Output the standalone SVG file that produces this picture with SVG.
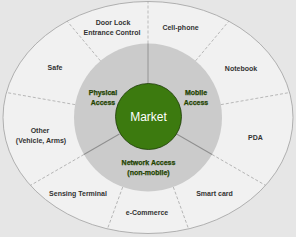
<svg xmlns="http://www.w3.org/2000/svg" width="296" height="237" viewBox="0 0 296 237">
<style>
.out{font-family:"Liberation Sans",Arial,sans-serif;font-size:7px;font-weight:bold;fill:#333333;text-anchor:middle}
.acc{font-family:"Liberation Sans",Arial,sans-serif;font-size:7px;font-weight:bold;fill:#2f5a00;stroke:#0f1f00;stroke-width:0.25;text-anchor:middle}
.dash{stroke:#a4a4a4;stroke-width:0.7;stroke-dasharray:3,2;fill:none}
.solid{stroke:#8e8e8e;stroke-width:0.9;fill:none}
</style>
<defs>
<clipPath id="ell"><ellipse cx="148" cy="117.5" rx="145" ry="116"/></clipPath>
</defs>
<rect width="296" height="237" fill="#e6e6e6"/>
<g id="outer-ring">
<ellipse cx="148" cy="117.5" rx="145" ry="116" fill="#f1f1f1" stroke="#a0a0a0" stroke-width="0.8"/>
</g>
<g id="inner-ring">
<circle cx="148" cy="117.5" r="74" fill="#cbcbcb"/>
</g>
<g id="connectors">
<g clip-path="url(#ell)">
<line class="dash" x1="148" y1="43.5" x2="148" y2="-120" transform="rotate(0 148 117.5)"/>
<line class="dash" x1="148" y1="43.5" x2="148" y2="-120" transform="rotate(40 148 117.5)"/>
<line class="dash" x1="148" y1="43.5" x2="148" y2="-120" transform="rotate(80 148 117.5)"/>
<line class="dash" x1="148" y1="43.5" x2="148" y2="-120" transform="rotate(120 148 117.5)"/>
<line class="dash" x1="148" y1="43.5" x2="148" y2="-120" transform="rotate(160 148 117.5)"/>
<line class="dash" x1="148" y1="43.5" x2="148" y2="-120" transform="rotate(200 148 117.5)"/>
<line class="dash" x1="148" y1="43.5" x2="148" y2="-120" transform="rotate(240 148 117.5)"/>
<line class="dash" x1="148" y1="43.5" x2="148" y2="-120" transform="rotate(280 148 117.5)"/>
<line class="dash" x1="148" y1="43.5" x2="148" y2="-120" transform="rotate(320 148 117.5)"/>
</g>
<line class="solid" x1="148" y1="84.5" x2="148" y2="43.5" transform="rotate(0 148 117.5)"/>
<line class="solid" x1="148" y1="84.5" x2="148" y2="43.5" transform="rotate(120 148 117.5)"/>
<line class="solid" x1="148" y1="84.5" x2="148" y2="43.5" transform="rotate(240 148 117.5)"/>
</g>
<g id="market">
<circle cx="148.5" cy="116.5" r="33" fill="#3c7a0f" stroke="#1c3a05" stroke-width="0.8"/>
<text x="148.5" y="121" style="font-family:'Liberation Sans',Arial,sans-serif;font-size:12px;fill:#ffffff;text-anchor:middle">Market</text>
</g>
<g id="physical-access"><text class="acc" x="103" y="95">Physical</text><text class="acc" x="103" y="104.5">Access</text></g>
<g id="mobile-access"><text class="acc" x="196" y="95">Mobile</text><text class="acc" x="196" y="104.5">Access</text></g>
<g id="network-access"><text class="acc" x="148.5" y="165">Network Access</text><text class="acc" x="148.5" y="174.5">(non-mobile)</text></g>
<g id="door-lock"><text class="out" x="113" y="25">Door Lock</text><text class="out" x="112" y="35">Entrance Control</text></g>
<g id="cell-phone"><text class="out" x="180.5" y="29.5">Cell-phone</text></g>
<g id="notebook"><text class="out" x="241" y="71">Notebook</text></g>
<g id="pda"><text class="out" x="255.5" y="140">PDA</text></g>
<g id="smart-card"><text class="out" x="214.5" y="196">Smart card</text></g>
<g id="e-commerce"><text class="out" x="147" y="215">e-Commerce</text></g>
<g id="sensing-terminal"><text class="out" x="78" y="196">Sensing Terminal</text></g>
<g id="other"><text class="out" x="40" y="132.5">Other</text><text class="out" x="41" y="142.5">(Vehicle, Arms)</text></g>
<g id="safe"><text class="out" x="55" y="69.5">Safe</text></g>
</svg>
